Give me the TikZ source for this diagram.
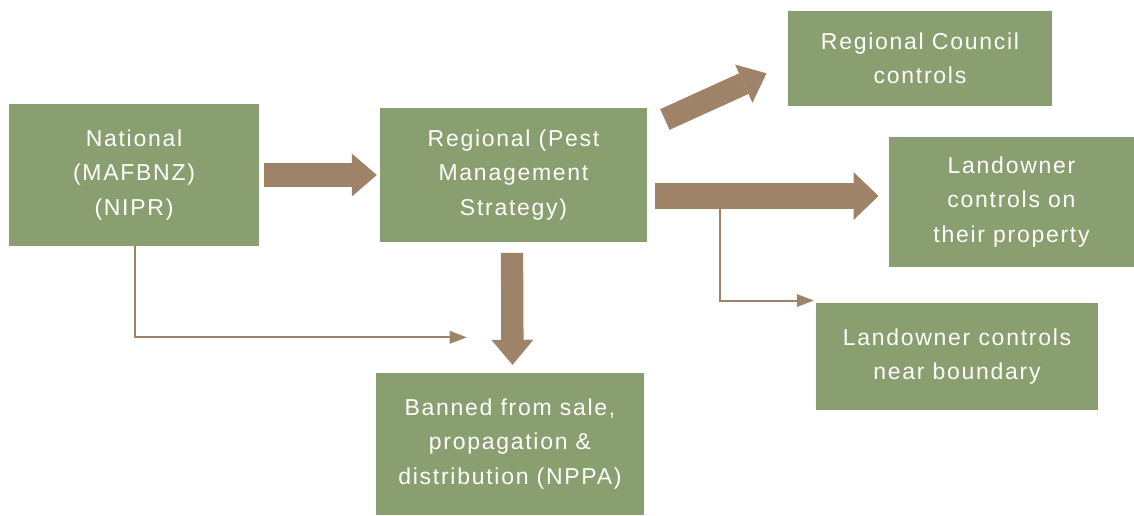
\documentclass[tikz,border=0pt]{standalone}
\usepackage{fontspec}
\usetikzlibrary{%
    arrows.meta,
    calc,
    positioning
}
\newfontfamily\boxfont{Liberation Sans}[LetterSpace=7.5]
\definecolor{boxgreen}{RGB}{138,159,112}
\definecolor{arrowbrown}{RGB}{158,131,104}
\tikzset{box/.style = {fill=boxgreen, text=white, inner sep=0pt, align=center,
                       font=\boxfont\fontsize{23}{34.5}\selectfont}}
\tikzset{bigarrow/.style 2 args = {draw=arrowbrown, line width=#1,
                       -{Triangle[length=25pt,width=#2,line width=0pt]}}}
\tikzset{thinarrow/.style = {draw=arrowbrown, line width=2pt,
                       -{Triangle[length=17pt,width=13pt,line width=0pt]}}}

\begin{document}
\begin{tikzpicture}[x=1pt,y=-1pt]
    \useasboundingbox (0,0) rectangle (1134,515);

    \node[box,minimum width=250pt,minimum height=142pt] (nat) at (134,175)
        {National\\(MAFBNZ)\\(NIPR)};
    \node[box,minimum width=267pt,minimum height=134pt] (reg) at (513.5,175)
        {Regional (Pest\\Management\\Strategy)};
    \node[box,minimum width=264pt,minimum height=95pt] (coun) at (920,58.5)
        {Regional Council\\controls};
    \node[box,minimum width=245pt,minimum height=130pt] (own) at (1011.5,202)
        {Landowner\\controls on\\their property};
    \node[box,minimum width=282pt,minimum height=107pt] (bound) at (957,356.5)
        {Landowner controls\\near boundary};
    \node[box,minimum width=268pt,minimum height=142pt] (ban) at (510,444)
        {Banned from sale,\\propagation \&\\distribution (NPPA)};

    % wide arrows
    \draw[bigarrow={24pt}{43pt}] ([xshift=5pt]nat.east) -- ([xshift=-3pt]reg.west);
    \draw[bigarrow={22.7pt}{42pt}] ([shift={(17.7,11.7)}]reg.north east)
        -- ([shift={(-21.3,14.8)}]coun.west);
    \coordinate (split) at ([shift={(72.3,21)}]reg.east);
    \draw[bigarrow={26.7pt}{48pt}] ([shift={(7.3,21)}]reg.east)
        -- ([xshift=-10.3pt]own.west |- split);
    \draw[bigarrow={22.3pt}{42pt}] ([shift={(-1.5,10.7)}]reg.south)
        -- ([shift={(2.5,-8)}]ban.north);

    % thin arrows
    \coordinate (natend) at (466.7,337.3);
    \draw[thinarrow] ([xshift=1.3pt]nat.south) |- (natend);
    \draw[thinarrow] ([yshift=12pt]split) |- ([shift={(-2,-2.3)}]bound.north west);
\end{tikzpicture}
\end{document}
